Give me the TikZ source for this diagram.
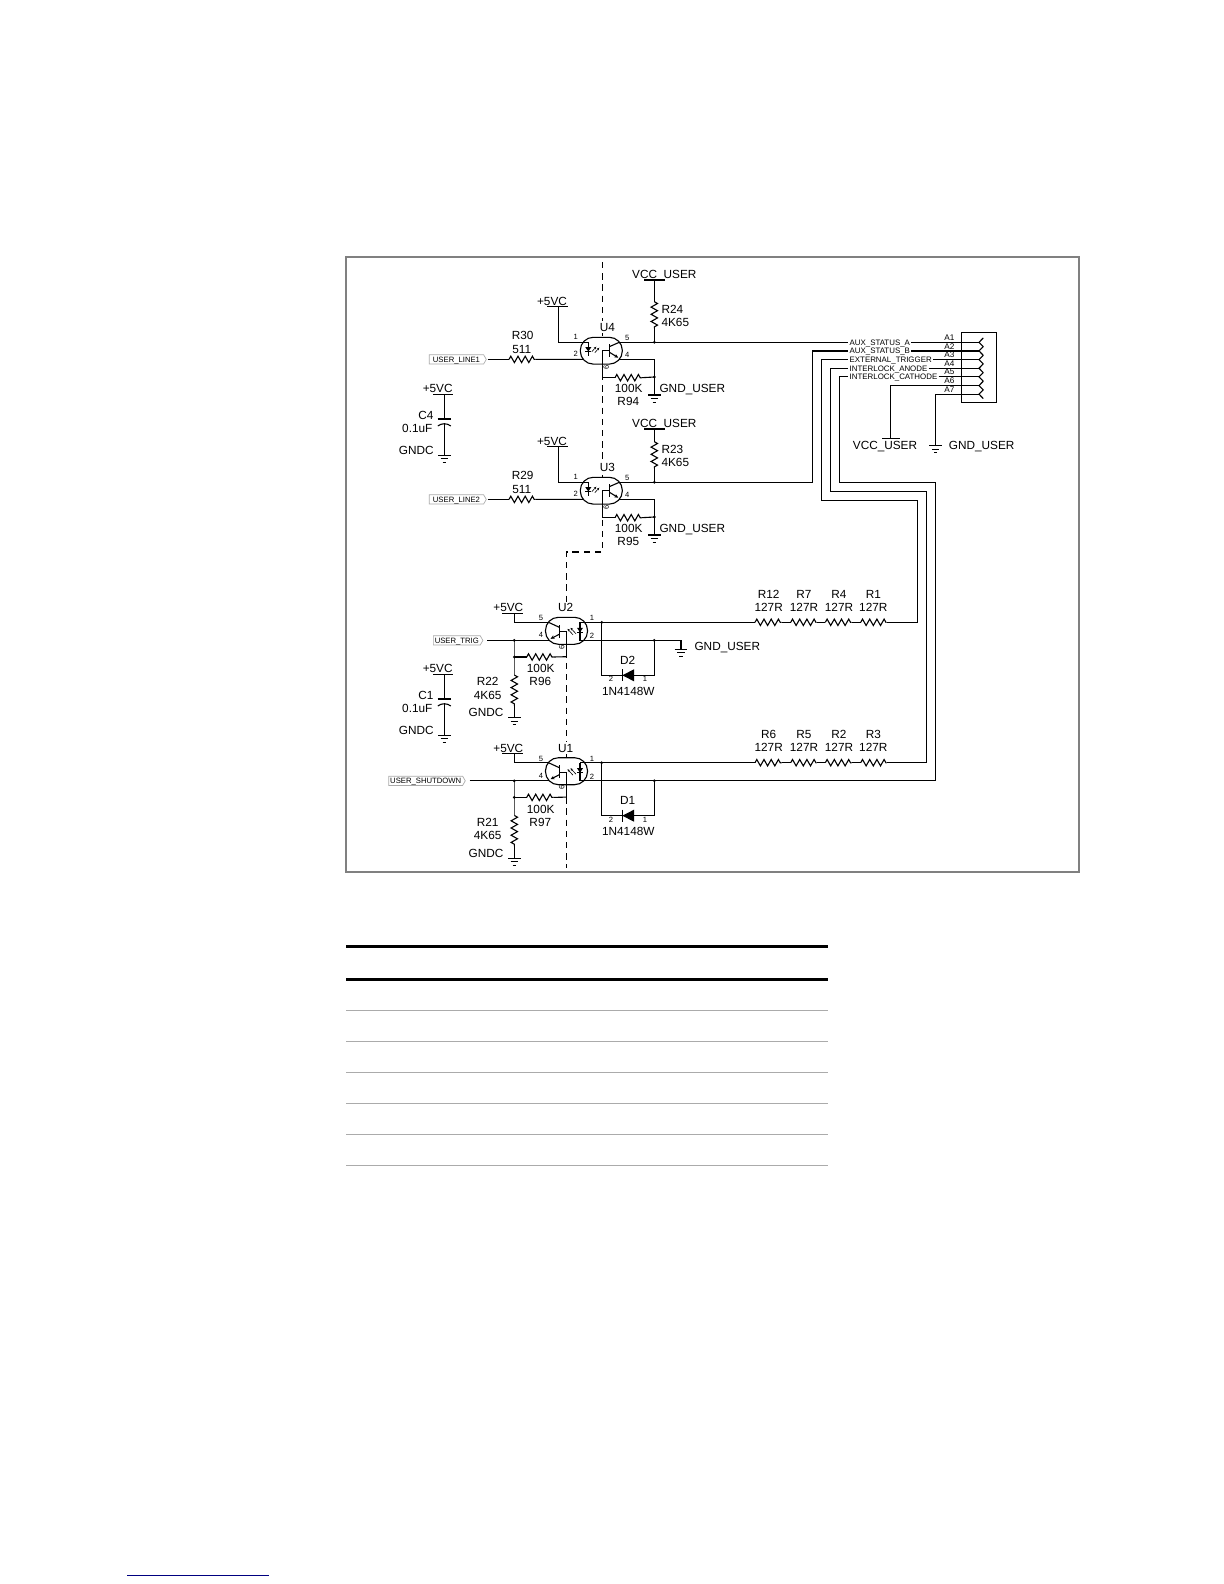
\documentclass[tikz,border=0pt]{standalone}
\usepackage{fontspec}
\setmainfont{Liberation Sans}
\usetikzlibrary{arrows.meta,decorations.pathmorphing,shapes.symbols}

\definecolor{framegray}{HTML}{808080}
\definecolor{rulegray}{HTML}{ABABAB}
\definecolor{notenavy}{HTML}{000080}

\begin{document}
\begin{tikzpicture}[
	x = 0.5pt, y = -0.5pt,
	line width = 0.55pt,
	lbl/.style = {font = \fontsize{5.9}{7}\selectfont, inner sep = 0pt, text height = 4.2pt, text depth = 0pt},
	sig/.style = {font = \fontsize{3.95}{5}\selectfont, inner xsep = 0.4pt, inner ysep = 0pt, anchor = west, text height = 2.8pt, text depth = 0pt},
	pinnum/.style = {font = \fontsize{3.8}{4}\selectfont, inner sep = 0pt},
	flag/.style = {shape = signal, signal to = east, signal pointer angle = 120, draw = rulegray,
		line width = 0.35pt, font = \fontsize{3.85}{5}\selectfont, inner xsep = 0.7pt, inner ysep = 0.9pt, anchor = east, text height = 2.8pt, text depth = 0pt},
	res/.style = {decorate, decoration = {zigzag, segment length = 3.6pt, amplitude = 1.6pt}},
	faint/.style = {line width = 0.35pt, black!65},
	pics/gndsym/.style = {code = {
		\draw (-6.3,0) -- (6.3,0);
		\draw (-3.8,3.6) -- (3.8,3.6);
		\draw (-1.6,7.2) -- (1.6,7.2);
	}},
	pics/capsym/.style = {code = {
		\draw (-6.7,0) -- (6.7,0);
		\draw (-6.5,7) .. controls (-3,4) and (3,4) .. (6.5,7);
	}},
	pics/optoleft/.style = {code = {
		\draw[fill = white, rounded corners = 6.5pt] (-21,-13.4) rectangle (21,13.4);
		\coordinate (-pin1) at (-18,-8.4);
		\coordinate (-pin2) at (-18,8.7);
		\coordinate (-pin5) at (18,-8.4);
		\coordinate (-pin4) at (18,8.7);
		\coordinate (-base) at (1,27);
		% diode side
		\draw (-13,-8.4) -- (-13,5);
		\draw (-18,-8.4) -- (-13,-8.4);
		\fill (-16,-3.5) -- (-10,-3.5) -- (-13,0.8) -- cycle;
		\draw (-16,0.8) -- (-10,0.8);
		\draw[-{Stealth[length = 1.3pt, width = 1.2pt]}, line width = 0.3pt] (-9.5,1) -- (-5,-4);
		\draw[-{Stealth[length = 1.3pt, width = 1.2pt]}, line width = 0.3pt] (-6.5,2) -- (-2,-3);
		% transistor side
		\draw (8,-6.7) -- (8,6.6);
		\draw (8,-4) -- (-pin5);
		\draw[-{Stealth[length = 2pt, width = 1.8pt]}] (8,1.5) -- (17,7);
		\draw (8,0) -- (1,0) -- (-base);
		\node[pinnum] (-n1) at (-25.6,-13.7) {1};
		\node[pinnum] (-n2) at (-25.6,3.6) {2};
		\node[pinnum] (-n5) at (26,-13) {5};
		\node[pinnum] (-n4) at (26,4.3) {4};
		\node[pinnum, rotate = 90] (-n6) at (5,16.5) {6};
	}},
	pics/optoright/.style = {code = {
		\draw[fill = white, rounded corners = 6.5pt] (-21,-13.5) rectangle (21,13.5);
		\coordinate (-pin5) at (-18,-8.5);
		\coordinate (-pin4) at (-18,9.6);
		\coordinate (-pin1) at (18,-8.5);
		\coordinate (-pin2) at (18,9.6);
		\coordinate (-base) at (0.2,25.9);
		% transistor side
		\draw (-7.2,-5.8) -- (-7.2,6.9);
		\draw (-7.2,-3.5) -- (-pin5);
		\draw[-{Stealth[length = 2pt, width = 1.8pt]}] (-7.2,3.5) -- (-16,8);
		\draw (-7.2,0.9) -- (0.2,0.9) -- (-base);
		% diode side
		\draw (13.5,-8.5) -- (-pin1);
		\draw (13.5,-8.5) -- (13.5,9.6) -- (-pin2);
		\fill (10.5,-3) -- (16.5,-3) -- (13.5,1.5) -- cycle;
		\draw (10.5,1.5) -- (16.5,1.5);
		\draw[-{Stealth[length = 1.3pt, width = 1.2pt]}, line width = 0.3pt] (9.5,3) -- (4,-3);
		\draw[-{Stealth[length = 1.3pt, width = 1.2pt]}, line width = 0.3pt] (6.5,4) -- (1,-2);
		\node[pinnum] (-n5) at (-25.5,-12.5) {5};
		\node[pinnum] (-n4) at (-25.5,4.5) {4};
		\node[pinnum] (-n1) at (25.5,-12.5) {1};
		\node[pinnum] (-n2) at (25.5,5.2) {2};
		\node[pinnum, rotate = 90] (-n6) at (-4.8,16.5) {6};
	}}
	]
	\useasboundingbox (0,0) rectangle (1224,1584);
	\draw[framegray, line width = 1pt] (345.7,256.7) rectangle (1078.7,872);

	% isolation barrier, the packages are drawn over it
	\coordinate (barA) at (602.3,262);
	\coordinate (barB) at (602.3,552);
	\coordinate (barC) at (566.3,552);
	\coordinate (barD) at (566.3,868);
	\draw[dash pattern = on 3.2pt off 2.4pt] (barA) -- (barB) -- (barC) -- (barD);

	% connector
	\draw (961.7,332.7) rectangle (996.7,402.7);
	\foreach \i [evaluate = \i as \py using 342.3+8.65*(\i-1)] in {1,...,7} {
		\coordinate (Ap\i) at (979,\py);
		\draw (983.3,\py-4.4) -- (Ap\i) -- (983.3,\py+4.4);
		\node[pinnum, font = \fontsize{4.1}{5}\selectfont] (A\i) at (949.3,\py-4.7) {A\i};
	}
	\foreach \i/\txt in {1/AUX\_STATUS\_A, 2/AUX\_STATUS\_B, 3/EXTERNAL\_TRIGGER, 4/INTERLOCK\_ANODE, 5/INTERLOCK\_CATHODE} {
		\node[sig] (sig\i) at (848.3,0 |- Ap\i) {\txt};
		\draw (sig\i.east) -- (Ap\i);
	}

	% input channels
	\foreach \opto/\dy/\rin/\rpull/\rup/\inname/\vccy in {U4/0/R30/R94/R24/USER\_LINE1/280, U3/140/R29/R95/R23/USER\_LINE2/429} {
		\begin{scope}[shift = {(0,\dy)}]
			\pic (\opto) at (601.3,350.7) {optoleft};
			\node[lbl, fill = white, inner xsep = 2pt, inner ysep = 1pt] (\opto name) at (607.3,327) {\opto};
			\coordinate (\opto-vdd) at (558.3,306.7);
			\draw (547,306.7) -- (568,306.7);
			\node[lbl] (\opto vddtxt) at (552,301.7) {+5VC};
			\draw (\opto-vdd) |- (\opto-pin1);
			\node[flag, minimum width = 28.5pt] (\opto flag) at (486.7,359.4) {\inname};
			\coordinate (\opto-in) at (487.6,359.4);
			\coordinate (\rin-a) at (509,359.4);
			\coordinate (\rin-b) at (535.7,359.4);
			\draw (\opto-in) -- (\rin-a);
			\draw[res] (\rin-a) -- (\rin-b);
			\draw (\rin-b) -- (\opto-pin2);
			\node[lbl] (\rin name) at (522.7,335.3) {\rin};
			\node[lbl] (\rin val) at (521.7,349) {511};
			\coordinate (\opto-j5) at (654.3,342.3);
			\coordinate (\opto-jg) at (654.3,377);
			\coordinate (\opto-gnd) at (654.3,395);
			\coordinate (\rup-a) at (654.3,301.7);
			\coordinate (\rup-b) at (654.3,328.3);
			\draw (\opto-pin5) -- (\opto-j5);
			\draw (\rup-b) -- (\opto-j5);
			\draw[res] (\rup-a) -- (\rup-b);
			\node[lbl, anchor = west] (\rup name) at (661,309.3) {\rup};
			\node[lbl, anchor = west] (\rup val) at (661,322.7) {4K65};
			\draw (\opto-pin4) -| (\opto-gnd);
			\pic at (\opto-gnd) {gndsym};
			\node[lbl, anchor = west] (\opto gndtxt) at (659,388.3) {GND\_USER};
			\coordinate (\rpull-a) at (615,377.7);
			\coordinate (\rpull-b) at (641.7,377.7);
			\draw (\opto-base) -- (\rpull-a);
			\draw[res] (\rpull-a) -- (\rpull-b);
			\draw (\rpull-b) -- (\opto-jg);
			\node[lbl] (\rpull val) at (628.7,388.3) {100K};
			\node[lbl] (\rpull name) at (628.3,401.7) {\rpull};
			\fill (\opto-j5) circle (0.75pt);
			\fill (\opto-jg) circle (0.75pt);
		\end{scope}
		% supply bar keeps its own height
		\coordinate (\opto-vcc) at (654.3,\vccy+0);
		\draw (644,\vccy+0) -- (665,\vccy+0);
		\draw (\opto-vcc) -- (\rup-a);
		\node[lbl] (\opto vcctxt) at (664.3,\vccy-5.7) {VCC\_USER};
	}

	% output channels
	\foreach \opto/\dy/\ra/\rb/\rcc/\rdd/\rpull/\rdown/\dname/\outname/\fx in {U2/0/R12/R7/R4/R1/R96/R22/D2/USER\_TRIG/483.3, U1/140.4/R6/R5/R2/R3/R97/R21/D1/USER\_SHUTDOWN/465.7} {
		\begin{scope}[shift = {(0,\dy)}]
			\pic (\opto) at (566.5,630.8) {optoright};
			\node[lbl, fill = white, inner xsep = 2pt, inner ysep = 1pt] (\opto name) at (565.7,607.7) {\opto};
			\coordinate (\opto-vdd) at (514.3,613.3);
			\draw (502.3,613.3) -- (523.3,613.3);
			\node[lbl] (\opto vddtxt) at (508.3,607.7) {+5VC};
			\draw (\opto-vdd) |- (\opto-pin5);
			\node[flag] (\opto flag) at (\fx,640.4) {\outname};
			\coordinate (\opto-in) at (\fx+4,640.4);
			\coordinate (\opto-j4) at (514.3,640.4);
			\draw (\opto-in) -- (\opto-j4) -- (\opto-pin4);
			\coordinate (\opto-j6) at (514.3,657);
			\coordinate (\rdown-a) at (514.3,675);
			\coordinate (\rdown-b) at (514.3,706);
			\coordinate (\opto-gnd) at (514.3,717.7);
			\draw[faint] (\opto-j4) -- (\opto-j6) -- (\rdown-a);
			\draw[res] (\rdown-a) -- (\rdown-b);
			\draw (\rdown-b) -- (\opto-gnd);
			\pic at (\opto-gnd) {gndsym};
			\node[lbl] (\rdown name) at (487.7,681.7) {\rdown};
			\node[lbl] (\rdown val) at (487.7,695) {4K65};
			\node[lbl] (\rdown gnd) at (486,712.7) {GNDC};
			\coordinate (\rpull-a) at (526.7,657);
			\coordinate (\rpull-b) at (553.3,657);
			\draw (\opto-j6) -- (\rpull-a);
			\draw[res] (\rpull-a) -- (\rpull-b);
			\draw (\rpull-b) -- (\opto-base);
			\node[lbl] (\rpull val) at (540.7,668.7) {100K};
			\node[lbl] (\rpull name) at (540.3,681.7) {\rpull};
			% series resistors
			\coordinate (\opto-j1) at (601.7,622.3);
			\foreach \n/\nm/\xa/\xb/\xt in {1/\ra/755/781.7/768.7, 2/\rb/790.7/816.7/804, 3/\rcc/825.3/851.7/839, 4/\rdd/860.7/886.7/873.3} {
				\coordinate (\opto-r\n a) at (\xa,622.3);
				\coordinate (\opto-r\n b) at (\xb,622.3);
				\draw[res] (\opto-r\n a) -- (\opto-r\n b);
				\node[lbl] (\nm name) at (\xt,594) {\nm};
				\node[lbl] (\nm val) at (\xt,607.3) {127R};
			}
			\draw (\opto-pin1) -- (\opto-j1) -- (\opto-r1a);
			\draw (\opto-r1b) -- (\opto-r2a);
			\draw (\opto-r2b) -- (\opto-r3a);
			\draw (\opto-r3b) -- (\opto-r4a);
			% clamp diode
			\coordinate (\opto-jb) at (654.3,640.4);
			\coordinate (\dname-a) at (622.3,675.3);
			\coordinate (\dname-c) at (634,675.3);
			\draw (\opto-pin2) -- (\opto-jb);
			\draw (\opto-j1) |- (\dname-a);
			\draw (\dname-c) -| (\opto-jb);
			\draw (622.3,669.3) -- (622.3,681.3);
			\fill (634,669.3) -- (634,681.3) -- (622.3,675.3) -- cycle;
			\node[lbl] (\dname name) at (627.7,660) {\dname};
			\node[pinnum] (\dname n2) at (611,679.3) {2};
			\node[pinnum] (\dname n1) at (645,679.3) {1};
			\node[lbl] (\dname val) at (628.3,691) {1N4148W};
			\fill (\opto-j1) circle (0.75pt);
			\fill (\opto-jb) circle (0.75pt);
			\fill (\opto-j4) circle (0.75pt);
			\fill (\opto-j6) circle (0.75pt);
		\end{scope}
	}
	\coordinate (gndB) at (681,649.3);
	\draw (U2-jb) -| (gndB);
	\pic at (gndB) {gndsym};
	\node[lbl, anchor = west] (gndtxtB) at (694,646.7) {GND\_USER};

	% decoupling
	\foreach \cname/\dy in {C4/0, C1/280} {
		\begin{scope}[shift = {(0,\dy)}]
			\coordinate (\cname-top) at (444.3,394.3);
			\coordinate (\cname-p) at (444.3,419);
			\coordinate (\cname-q) at (444.3,423.3);
			\coordinate (\cname-gnd) at (444.3,455.3);
			\draw (433,394.3) -- (453,394.3);
			\node[lbl] (\cname vdd) at (437.7,388.6) {+5VC};
			\draw (\cname-top) -- (\cname-p);
			\pic at (\cname-p) {capsym};
			\draw (\cname-q) -- (\cname-gnd);
			\pic at (\cname-gnd) {gndsym};
			\node[lbl] (\cname name) at (426,415) {\cname};
			\node[lbl] (\cname val) at (417.3,428.3) {0.1uF};
			\node[lbl] (\cname gnd) at (416.3,450.3) {GNDC};
		\end{scope}
	}

	% field wires to the connector
	\coordinate (busB) at (812.3,0 |- Ap2);
	\coordinate (busC) at (821.4,0 |- Ap3);
	\coordinate (busD) at (830.4,0 |- Ap4);
	\coordinate (busE) at (839.4,0 |- Ap5);
	\coordinate (turnC) at (917.5,500.3);
	\coordinate (turnD) at (926.5,491.3);
	\coordinate (turnE) at (935.5,482.3);
	\draw (U4-j5) -- (sig1.west);
	\draw (U3-j5) -| (busB) -- (sig2.west);
	\draw (U2-r4b) -| (turnC) -| (busC) -- (sig3.west);
	\draw (U1-r4b) -| (turnD) -| (busD) -- (sig4.west);
	\draw (U1-jb) -| (turnE) -| (busE) -- (sig5.west);

	\coordinate (vccC) at (890.6,438.3);
	\draw (882.3,438.3) -- (900,438.3);
	\draw (Ap6) -| (vccC);
	\node[lbl] (vcctxtC) at (885,445) {VCC\_USER};
	\coordinate (gndC) at (935.6,445.7);
	\draw (Ap7) -| (gndC);
	\pic at (gndC) {gndsym};
	\node[lbl, anchor = west] (gndtxtC) at (948.3,445) {GND\_USER};

	% empty table rules
	\foreach \y in {946.3,979.3} \draw[line width = 1.5pt] (346,\y) -- (828,\y);
	\foreach \y in {1010.3,1041.3,1072.3,1103.3,1134.3,1165.3} \draw[rulegray, line width = 0.5pt] (346,\y) -- (828,\y);
	\draw[notenavy, line width = 0.5pt] (127,1575.3) -- (269,1575.3);
\end{tikzpicture}
\end{document}
